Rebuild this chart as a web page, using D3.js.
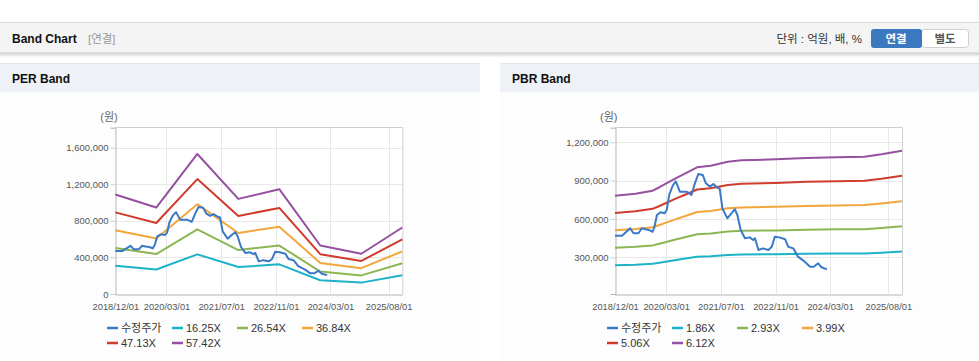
<!DOCTYPE html>
<html>
<head>
<meta charset="utf-8">
<script src="https://cdn.jsdelivr.net/npm/d3@7"></script>
<style>
  html, body { margin: 0; padding: 0; background: #fff; }
  svg { display: block; font-family: "Liberation Sans", Arial, "Noto Sans CJK KR", sans-serif; }
</style>
</head>
<body>
<svg id="chart" width="979" height="361"></svg>
<script>
// ---------- DATA ----------
const xTickDates = ["2018-12-01", "2020-03-01", "2021-07-01", "2022-11-01", "2024-03-01", "2025-08-01"];

// Adjusted price (수정주가), shared by both charts
const priceDates = ["2018-12-01","2019-02-01","2019-03-07","2019-04-15","2019-05-15","2019-06-28","2019-07-28","2019-08-28","2019-09-28","2019-11-01",
  "2019-11-18","2019-12-10","2020-01-10","2020-02-15","2020-03-06","2020-03-28","2020-04-28","2020-05-25","2020-07-01","2020-09-01",
  "2020-10-12","2020-11-12","2020-12-12","2021-01-21","2021-02-18","2021-03-25","2021-04-25","2021-05-25","2021-06-21","2021-07-15",
  "2021-08-28","2021-10-03","2021-11-03","2021-11-25","2021-12-25","2022-02-01","2022-03-15","2022-04-15","2022-05-01","2022-06-01",
  "2022-07-12","2022-08-28","2022-09-28","2022-10-25","2022-12-04","2023-01-25","2023-02-21","2023-04-07","2023-05-19","2023-07-19",
  "2023-09-04","2023-10-07","2023-11-15","2023-12-15","2024-02-01"];
const priceValues = [469000,469000,496000,527000,488000,488000,527000,520000,514000,500000,
  540000,631000,652000,644000,670000,788000,860000,895000,813000,813000,
  788000,879000,952000,944000,879000,853000,874000,848000,836000,683000,
  605000,644000,676000,631000,514000,449000,456000,435000,449000,357000,
  370000,357000,383000,461000,456000,441000,383000,370000,305000,266000,
  226000,226000,253000,222000,206000];

// PER band
const perDates = ["2018-12-01","2019-12-01","2020-12-01","2021-12-01","2022-12-01","2023-12-01","2024-12-01","2025-12-01"];
const perLabels = ["16.25X", "26.54X", "36.84X", "47.13X", "57.42X"];
const per1625 = [307600, 267500, 433200, 294300, 324400, 150000, 124500, 205700];
const per2654 = [502400, 436800, 707600, 480600, 529700, 245000, 203300, 336000];
const per3684 = [697400, 606400, 982200, 667200, 735300, 340000, 282200, 466400];
const per4713 = [892200, 775800, 1256500, 853500, 940700, 435000, 361000, 596700];
const per5742 = [1087000, 945100, 1530800, 1039900, 1146100, 530000, 439800, 726900];
const perYTicks = [0, 400000, 800000, 1200000, 1600000];

// PBR band
const pbrDates = ["2018-12-01","2019-06-01","2019-11-01","2020-01-01","2020-05-15","2020-09-01","2020-12-01","2021-04-01",
  "2021-09-01","2022-01-01","2022-11-01","2023-08-01","2024-05-01","2025-01-01","2025-06-01","2025-12-01"];
const pbrLabels = ["1.86X", "2.93X", "3.99X", "5.06X", "6.12X"];
const pbr186 = [237700,242500,249600,257800,277500,292400,305200,309100,318400,321800,324200,327400,329200,330300,336100,344700];
const pbr293 = [374500,382100,393200,406100,437200,460600,480800,487000,501600,506900,510700,515700,518600,520400,529500,542900];
const pbr399 = [512000,522000,535500,553000,595300,627200,654800,663100,683100,690300,695500,702200,706200,708600,721000,739300];
const pbr506 = [646700,659800,679100,701300,755000,795400,830300,841000,866300,875400,882000,890600,895600,898700,914300,937600];
const pbr612 = [782100,798000,821300,848200,913100,962100,1004300,1017100,1047700,1058800,1066700,1077100,1083200,1086900,1105900,1134000];
const pbrYTicks = [300000, 600000, 900000, 1200000];

const priceLabel = "수정주가";
const colors = { price: "#3a78c8", b1: "#1cb3c6", b2: "#8cb653", b3: "#f3a63b", b4: "#cf3b2d", b5: "#95509f" };

// ---------- DRAW ----------
const svg = d3.select("#chart");
const parse = d3.timeParse("%Y-%m-%d");

// header
svg.append("rect").attr("x", 0).attr("y", 22).attr("width", 979).attr("height", 31).attr("fill", "#f4f4f4");
svg.append("line").attr("x1", 0).attr("x2", 979).attr("y1", 22.5).attr("y2", 22.5).attr("stroke", "#dadada");
const defs = svg.append("defs");
const sg = defs.append("linearGradient").attr("id", "shadow").attr("x1", 0).attr("x2", 0).attr("y1", 0).attr("y2", 1);
sg.append("stop").attr("offset", "0%").attr("stop-color", "#000").attr("stop-opacity", 0.16);
sg.append("stop").attr("offset", "100%").attr("stop-color", "#000").attr("stop-opacity", 0);
svg.append("line").attr("x1", 0).attr("x2", 979).attr("y1", 53).attr("y2", 53).attr("stroke", "#cfcfcf");
svg.append("rect").attr("x", 0).attr("y", 53.5).attr("width", 979).attr("height", 4).attr("fill", "url(#shadow)");

svg.append("text").attr("x", 12).attr("y", 43).attr("font-size", 12).attr("font-weight", "bold").attr("fill", "#111").text("Band Chart");
svg.append("text").attr("x", 88).attr("y", 43).attr("font-size", 11.5).attr("fill", "#999").text("[연결]");
svg.append("text").attr("x", 862).attr("y", 43).attr("font-size", 11.5).attr("fill", "#333").attr("text-anchor", "end").text("단위 : 억원, 배, %");
// buttons
svg.append("rect").attr("x", 921.5).attr("y", 29.5).attr("width", 47).attr("height", 18).attr("rx", 3).attr("fill", "#fff").attr("stroke", "#cfcfcf");
svg.append("rect").attr("x", 871).attr("y", 29).attr("width", 51).attr("height", 19).attr("rx", 3).attr("fill", "#3a78c0");
svg.append("text").attr("x", 896).attr("y", 43).attr("font-size", 11.5).attr("font-weight", "bold").attr("fill", "#fff").attr("text-anchor", "middle").text("연결");
svg.append("text").attr("x", 945).attr("y", 43).attr("font-size", 11.5).attr("font-weight", "bold").attr("fill", "#555").attr("text-anchor", "middle").text("별도");

function panel(px, pw, title) {
  svg.append("rect").attr("x", px).attr("y", 63).attr("width", pw).attr("height", 29).attr("fill", "#eef1f6");
  svg.append("line").attr("x1", px).attr("x2", px + pw).attr("y1", 63.5).attr("y2", 63.5).attr("stroke", "#e1e5ec");
  svg.append("rect").attr("x", px).attr("y", 92).attr("width", pw).attr("height", 269).attr("fill", "#fdfdfd");
  svg.append("text").attr("x", px + 12).attr("y", 83).attr("font-size", 12).attr("font-weight", "bold").attr("fill", "#111").text(title);
}
panel(0, 480, "PER Band");
panel(500, 479, "PBR Band");

function drawChart(opt) {
  const x = d3.scaleTime().domain([parse("2018-12-01"), parse("2025-12-01")]).range([opt.left, opt.left + 287]);
  const y = d3.scaleLinear().domain(opt.yDomain).range([294, 127.7]);
  const g = svg.append("g");
  g.append("rect").attr("x", opt.left).attr("y", 127.7).attr("width", 287).attr("height", 294 - 127.7).attr("fill", "#fff");

  // grid
  g.selectAll(".vg").data(xTickDates.slice(1)).join("line")
    .attr("x1", d => Math.round(x(parse(d))) + 0.5).attr("x2", d => Math.round(x(parse(d))) + 0.5)
    .attr("y1", 127.7).attr("y2", 294).attr("stroke", "#e8e8e8");
  g.selectAll(".hg").data(opt.yTicks.filter(v => v > opt.yDomain[0])).join("line")
    .attr("x1", opt.left).attr("x2", opt.left + 287)
    .attr("y1", d => Math.round(y(d)) + 0.5).attr("y2", d => Math.round(y(d)) + 0.5).attr("stroke", "#e8e8e8");

  // frame
  g.append("line").attr("x1", opt.left + 287.5).attr("x2", opt.left + 287.5).attr("y1", 127.7).attr("y2", 294).attr("stroke", "#cfcfcf");
  g.append("line").attr("x1", opt.left).attr("x2", opt.left + 287.5).attr("y1", 127.5).attr("y2", 127.5).attr("stroke", "#cfcfcf");

  // axes
  const yAxis = d3.axisLeft(y).tickValues(opt.yTicks).tickFormat(d3.format(",")).tickSize(5).tickPadding(2);
  const ya = g.append("g").attr("transform", `translate(${Math.round(opt.left) + 0.5},0)`).call(yAxis);
  ya.select(".domain").attr("stroke", "#b5b5b5");
  ya.selectAll(".tick line").attr("stroke", "#d0d0d0");
  ya.selectAll("text").attr("font-size", 9.5).attr("fill", "#555").attr("font-family", "Liberation Sans, Arial, sans-serif");

  const xAxis = d3.axisBottom(x).tickValues(xTickDates.map(parse)).tickFormat(d3.timeFormat("%Y/%m/%d")).tickSize(0).tickPadding(9);
  const xa = g.append("g").attr("transform", `translate(0,${294.5})`).call(xAxis);
  xa.select(".domain").attr("stroke", "#b5b5b5");
  xa.selectAll("text").attr("font-size", 9.3).attr("fill", "#555").attr("font-family", "Liberation Sans, Arial, sans-serif");

  svg.append("text").attr("x", opt.left - 15).attr("y", 121).attr("font-size", 11).attr("fill", "#666").text("(원)");

  const line = d3.line().x(d => x(d[0])).y(d => y(d[1]));
  const bandColors = [colors.b1, colors.b2, colors.b3, colors.b4, colors.b5];
  opt.bands.forEach((vals, i) => {
    const pts = opt.dates.map((d, k) => [parse(d), vals[k]]);
    g.append("path").attr("d", line(pts)).attr("fill", "none").attr("stroke", bandColors[i]).attr("stroke-width", 2).attr("stroke-linejoin", "round");
  });
  const pricePts = priceDates.map((d, k) => [parse(d), priceValues[k]]);
  g.append("path").attr("d", line(pricePts)).attr("fill", "none").attr("stroke", colors.price).attr("stroke-width", 2).attr("stroke-linejoin", "round");

  // legend
  const items = [[priceLabel, colors.price]].concat(opt.labels.map((l, i) => [l, bandColors[i]]));
  items.forEach((it, i) => {
    const col = i % 4, row = Math.floor(i / 4);
    const lx = opt.legendX + col * 65, ly = 328 + row * 15;
    svg.append("line").attr("x1", lx).attr("x2", lx + 11).attr("y1", ly).attr("y2", ly).attr("stroke", it[1]).attr("stroke-width", 2.5);
    svg.append("text").attr("x", lx + 14).attr("y", ly + 4).attr("font-size", 11).attr("fill", "#333").text(it[0]);
  });
}

drawChart({ left: 115.3, yDomain: [0, 1818000], yTicks: perYTicks, dates: perDates,
  bands: [per1625, per2654, per3684, per4713, per5742], labels: perLabels, legendX: 107 });
drawChart({ left: 615, yDomain: [13000, 1314000], yTicks: pbrYTicks, dates: pbrDates,
  bands: [pbr186, pbr293, pbr399, pbr506, pbr612], labels: pbrLabels, legendX: 607 });
</script>
</body>
</html>
